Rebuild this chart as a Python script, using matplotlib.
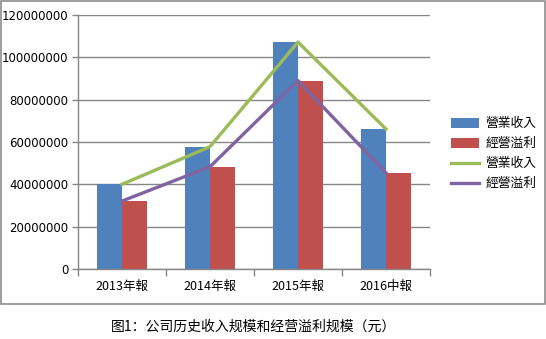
import numpy as np
import matplotlib.pyplot as plt
from matplotlib.patches import Rectangle
from matplotlib.ticker import FixedLocator, NullFormatter

plt.rcParams['font.family'] = ['Noto Sans CJK TC', 'DejaVu Sans']

categories = ["2013年報", "2014年報", "2015年報", "2016中報"]
revenue = [40000000, 57800000, 107200000, 66100000]
profit = [32100000, 48300000, 89000000, 45400000]
yticks = [0, 20000000, 40000000, 60000000, 80000000, 100000000, 120000000]

blue = "#4F81BD"
red = "#C0504D"
green = "#9BBB59"
purple = "#8064A2"
grid_c = "#868686"

fig = plt.figure(figsize=(5.46, 3.39), dpi=100)
# outer frame around chart area
fig.patches.append(Rectangle((0.001, 35 / 339), 0.997, 303 / 339,
                             transform=fig.transFigure, fill=False,
                             edgecolor="#8c8c8c", linewidth=1.2))

ax = fig.add_axes([78 / 546, 70 / 339, 352 / 546, 254 / 339])
x = np.arange(len(categories))
w = 0.285
b1 = ax.bar(x - w / 2, revenue, w, color=blue, label="營業收入", zorder=2)
b2 = ax.bar(x + w / 2, profit, w, color=red, label="經營溢利", zorder=2)
l1, = ax.plot(x, revenue, color=green, lw=2.4, label="營業收入", zorder=3)
l2, = ax.plot(x, profit, color=purple, lw=2.4, label="經營溢利", zorder=3)

ax.set_xlim(-0.5, len(categories) - 0.5)
ax.set_ylim(0, 120000000)
ax.set_yticks(yticks)
ax.set_yticklabels([str(v) for v in yticks], fontsize=8.5, family="DejaVu Sans")
ax.yaxis.grid(True, color=grid_c, lw=1, zorder=0)
ax.set_axisbelow(True)

ax.set_xticks(x)
ax.set_xticklabels(categories, fontsize=9)
ax.tick_params(axis="x", length=0, pad=8)
ax.xaxis.set_minor_locator(FixedLocator(np.arange(-0.5, len(categories), 1)))
ax.xaxis.set_minor_formatter(NullFormatter())
ax.tick_params(axis="x", which="minor", length=5, color=grid_c, width=1)
ax.tick_params(axis="y", length=4, color=grid_c, width=1, pad=3)

for s in ["top", "right"]:
    ax.spines[s].set_visible(False)
for s in ["left", "bottom"]:
    ax.spines[s].set_color(grid_c)
    ax.spines[s].set_linewidth(1)

ax.legend([b1, b2, l1, l2], ["營業收入", "經營溢利", "營業收入", "經營溢利"],
          loc="upper left", bbox_to_anchor=(446 / 546, 1 - 112 / 339),
          bbox_transform=fig.transFigure, frameon=False, fontsize=9.2,
          handlelength=2.2, handleheight=0.8, labelspacing=0.55,
          borderaxespad=0, handletextpad=0.5)

fig.text(254 / 546, 1 - 327 / 339, "图1：公司历史收入规模和经营溢利规模（元）",
         ha="center", va="center", fontsize=10,
         family=["Noto Sans CJK SC", "DejaVu Sans"])

fig.savefig("out.png", dpi=100)
